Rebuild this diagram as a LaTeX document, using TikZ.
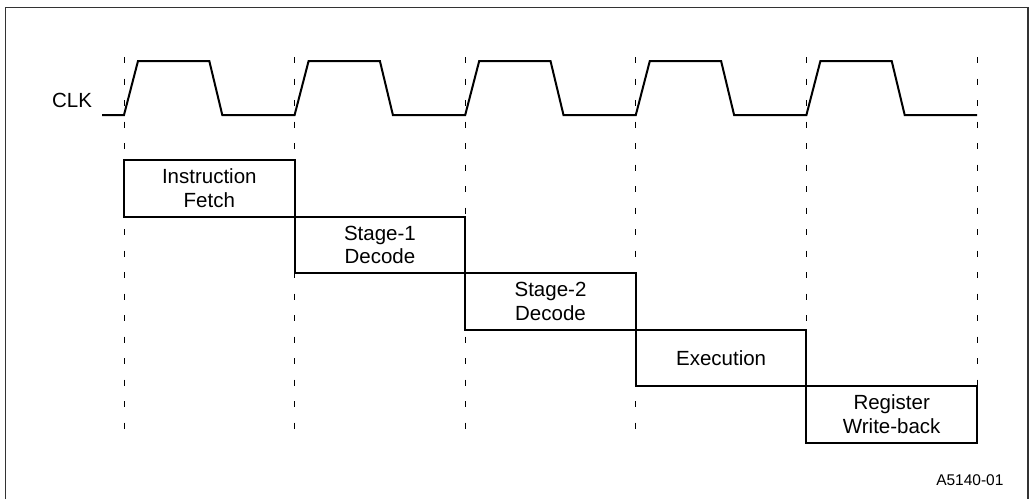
\documentclass[tikz,border=0pt]{standalone}
\usepackage{fontspec}
\setmainfont{Liberation Sans}
\usetikzlibrary{positioning}

\begin{document}
\begin{tikzpicture}[
  x=1pt, y=-1pt,
  font=\fontsize{20.5}{23.5}\selectfont,
  stagebox/.style={draw, line width=2pt, minimum width=170.6pt, minimum height=56.5pt, align=center, inner sep=0pt, outer sep=0pt, anchor=north west},
  guide/.style={line width=1pt, dash pattern=on 6pt off 15.5pt},
  wave/.style={line width=2pt, line join=miter},
  frame/.style={line width=1.2pt, black!80}
]
\useasboundingbox (0,0) rectangle (1030,499);

% ---- outer frame ----
\draw[frame] (5.5,499) |- (1028,7.5) -- (1028,499);

% ---- clock edges ----
\foreach \i in {0,...,5}
  \draw[guide] (124+170.6*\i,57) -- ++(0,386);

% ---- CLK waveform ----
\node[anchor=base] (clk) at (72,107.3) {CLK};
\draw[wave] (102,115) -- (124,115)
  \foreach \i in {1,...,5} { -- ++(14,-54) -- ++(71.3,0) -- ++(13,54) -- ++(72.3,0) };

% ---- pipeline stages ----
\node[stagebox] (fetch) at (124,160) {Instruction\\Fetch};
\node[stagebox] (dec1) at (fetch.south east) {Stage-1\\Decode};
\node[stagebox] (dec2) at (dec1.south east) {Stage-2\\Decode};
\node[stagebox] (exec) at (dec2.south east) {Execution};
\node[stagebox] (wb) at (exec.south east) {Register\\Write-back};

% ---- figure id ----
\node[anchor=base east, font=\fontsize{15.5}{18}\selectfont] (figid) at (1007,485) {A5140-01};

\end{tikzpicture}
\end{document}
